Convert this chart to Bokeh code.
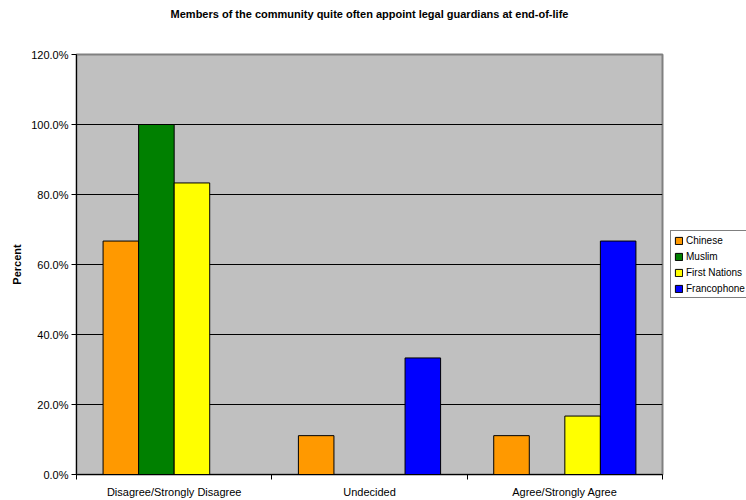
from bokeh.plotting import figure
from bokeh.models import (ColumnDataSource, FixedTicker, NumeralTickFormatter,
                          Legend, LegendItem, Range1d, Title)
from bokeh.embed import file_html
from bokeh.resources import INLINE

title = "Members of the community quite often appoint legal guardians at end-of-life"
categories = ["Disagree/Strongly Disagree", "Undecided", "Agree/Strongly Agree"]
series_names = ["Chinese", "Muslim", "First Nations", "Francophone"]
chinese = [0.667, 0.111, 0.111]
muslim = [1.0, 0.0, 0.0]
first_nations = [0.833, 0.0, 0.167]
francophone = [0.0, 0.333, 0.667]
colors = ["#FF9900", "#008000", "#FFFF00", "#0000FF"]
y_ticks = [0.0, 0.2, 0.4, 0.6, 0.8, 1.0, 1.2]

FONT = "Liberation Sans"

p = figure(frame_width=586, frame_height=420, output_backend="svg", toolbar_location=None,
           x_range=Range1d(0, len(categories)), y_range=Range1d(0, 1.2),
           min_border_left=76, min_border_right=84, min_border_top=54,
           min_border_bottom=26, tools="", title_location=None)
p.background_fill_color = "#C0C0C0"
p.border_fill_color = "white"
p.outline_line_color = "#808080"
p.outline_line_width = 2

spacer = Title(text=" ", text_font=FONT, text_font_size="11px", standoff=16)
p.add_layout(spacer, "above")
main_title = Title(text=title, text_font=FONT, text_font_size="11px",
                   text_font_style="bold", text_color="black", align="center",
                   standoff=10)
p.add_layout(main_title, "above")

bar_w = 0.182
all_series = [chinese, muslim, first_nations, francophone]
renderers = []
for i, (name, vals, col) in enumerate(zip(series_names, all_series, colors)):
    off = (i - 1.5) * bar_w
    src = ColumnDataSource(dict(x=[k + 0.5 + off for k in range(len(categories))], top=vals))
    r = p.vbar(x="x", top="top", width=bar_w, source=src, fill_color=col,
               line_color="black", line_width=1)
    renderers.append(r)

# axes
p.xaxis.ticker = FixedTicker(ticks=[k + 0.5 for k in range(len(categories))],
                             minor_ticks=list(range(len(categories) + 1)))
p.xaxis.major_label_overrides = {k + 0.5: c for k, c in enumerate(categories)}
p.xaxis.major_tick_out = 0
p.xaxis.major_tick_in = 0
p.xaxis.minor_tick_out = 5
p.xaxis.minor_tick_in = 0
p.xaxis.minor_tick_line_color = "black"
p.xaxis.axis_line_color = "black"
p.xaxis.major_label_text_font = FONT
p.xaxis.major_label_text_font_size = "11px"
p.xaxis.major_label_text_color = "black"
p.xaxis.major_label_standoff = 6

p.yaxis.ticker = FixedTicker(ticks=y_ticks, minor_ticks=[])
p.yaxis.formatter = NumeralTickFormatter(format="0.0%")
p.yaxis.major_tick_out = 5
p.yaxis.major_tick_in = 0
p.yaxis.minor_tick_out = 0
p.yaxis.major_tick_line_color = "black"
p.yaxis.axis_line_color = "black"
p.yaxis.major_label_text_font = FONT
p.yaxis.major_label_text_font_size = "11px"
p.yaxis.major_label_text_color = "black"
p.yaxis.major_label_standoff = 3
p.yaxis.axis_label = "Percent"
p.yaxis.axis_label_text_font = FONT
p.yaxis.axis_label_text_font_size = "11px"
p.yaxis.axis_label_text_font_style = "bold"
p.yaxis.axis_label_text_color = "black"
p.yaxis.axis_label_standoff = 5

p.xgrid.grid_line_color = None
p.ygrid.ticker = FixedTicker(ticks=y_ticks[:-1])
p.ygrid.grid_line_color = "black"
p.ygrid.grid_line_width = 1

legend = Legend(items=[LegendItem(label=n, renderers=[r]) for n, r in zip(series_names, renderers)],
                location="center_left")
legend.label_text_font = FONT
legend.label_text_font_size = "10px"
legend.label_text_color = "black"
legend.glyph_width = 9
legend.glyph_height = 9
legend.label_height = 12
legend.spacing = 4
legend.padding = 3
legend.margin = 8
legend.label_standoff = 3
legend.border_line_color = "black"
legend.border_line_width = 1
legend.background_fill_color = "white"
legend.background_fill_alpha = 1
p.add_layout(legend, "right")

open("out.html", "w").write(file_html(p, INLINE))
